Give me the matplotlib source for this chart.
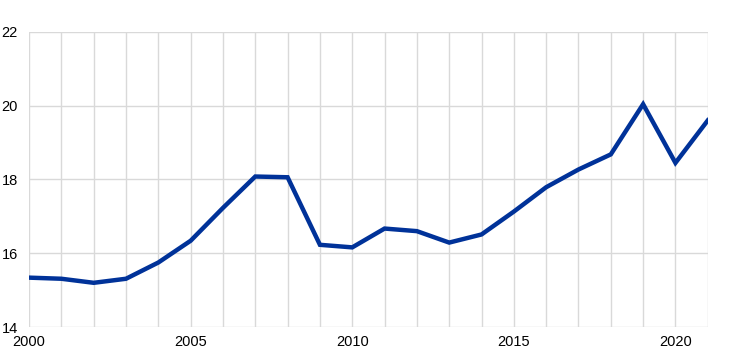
import matplotlib.pyplot as plt
import numpy as np

plt.rcParams['font.family'] = ['Liberation Sans', 'DejaVu Sans']

years = np.arange(2000, 2022)
values = [15.34, 15.31, 15.20, 15.31, 15.75, 16.34, 17.23, 18.08, 18.06, 16.23,
          16.16, 16.67, 16.60, 16.29, 16.51, 17.13, 17.79, 18.27, 18.68, 20.04,
          18.45, 19.60]
xticks = [2000, 2005, 2010, 2015, 2020]
yticks = [14, 16, 18, 20, 22]

fig = plt.figure(figsize=(7.45, 3.54), dpi=100)
ax = fig.add_axes([0.039, 0.076, 0.911, 0.834])

# grille verticale pour chaque annee
for yr in years:
    ax.axvline(yr, color='#d9d9d9', lw=1, zorder=0)
for y in yticks:
    ax.axhline(y, color='#d9d9d9', lw=1, zorder=0)

ax.plot(years, values, color='#003299', lw=3.2, solid_joinstyle='miter', zorder=3)

ax.set_xlim(2000, 2021)
ax.set_ylim(14, 22)
ax.set_xticks(xticks)
ax.set_yticks(yticks)
for s in ax.spines.values():
    s.set_visible(False)
ax.tick_params(length=0, labelsize=10.5, colors='#000000')
ax.tick_params(axis='y', pad=8)
ax.tick_params(axis='x', pad=6)

fig.savefig('out.png', dpi=100)
